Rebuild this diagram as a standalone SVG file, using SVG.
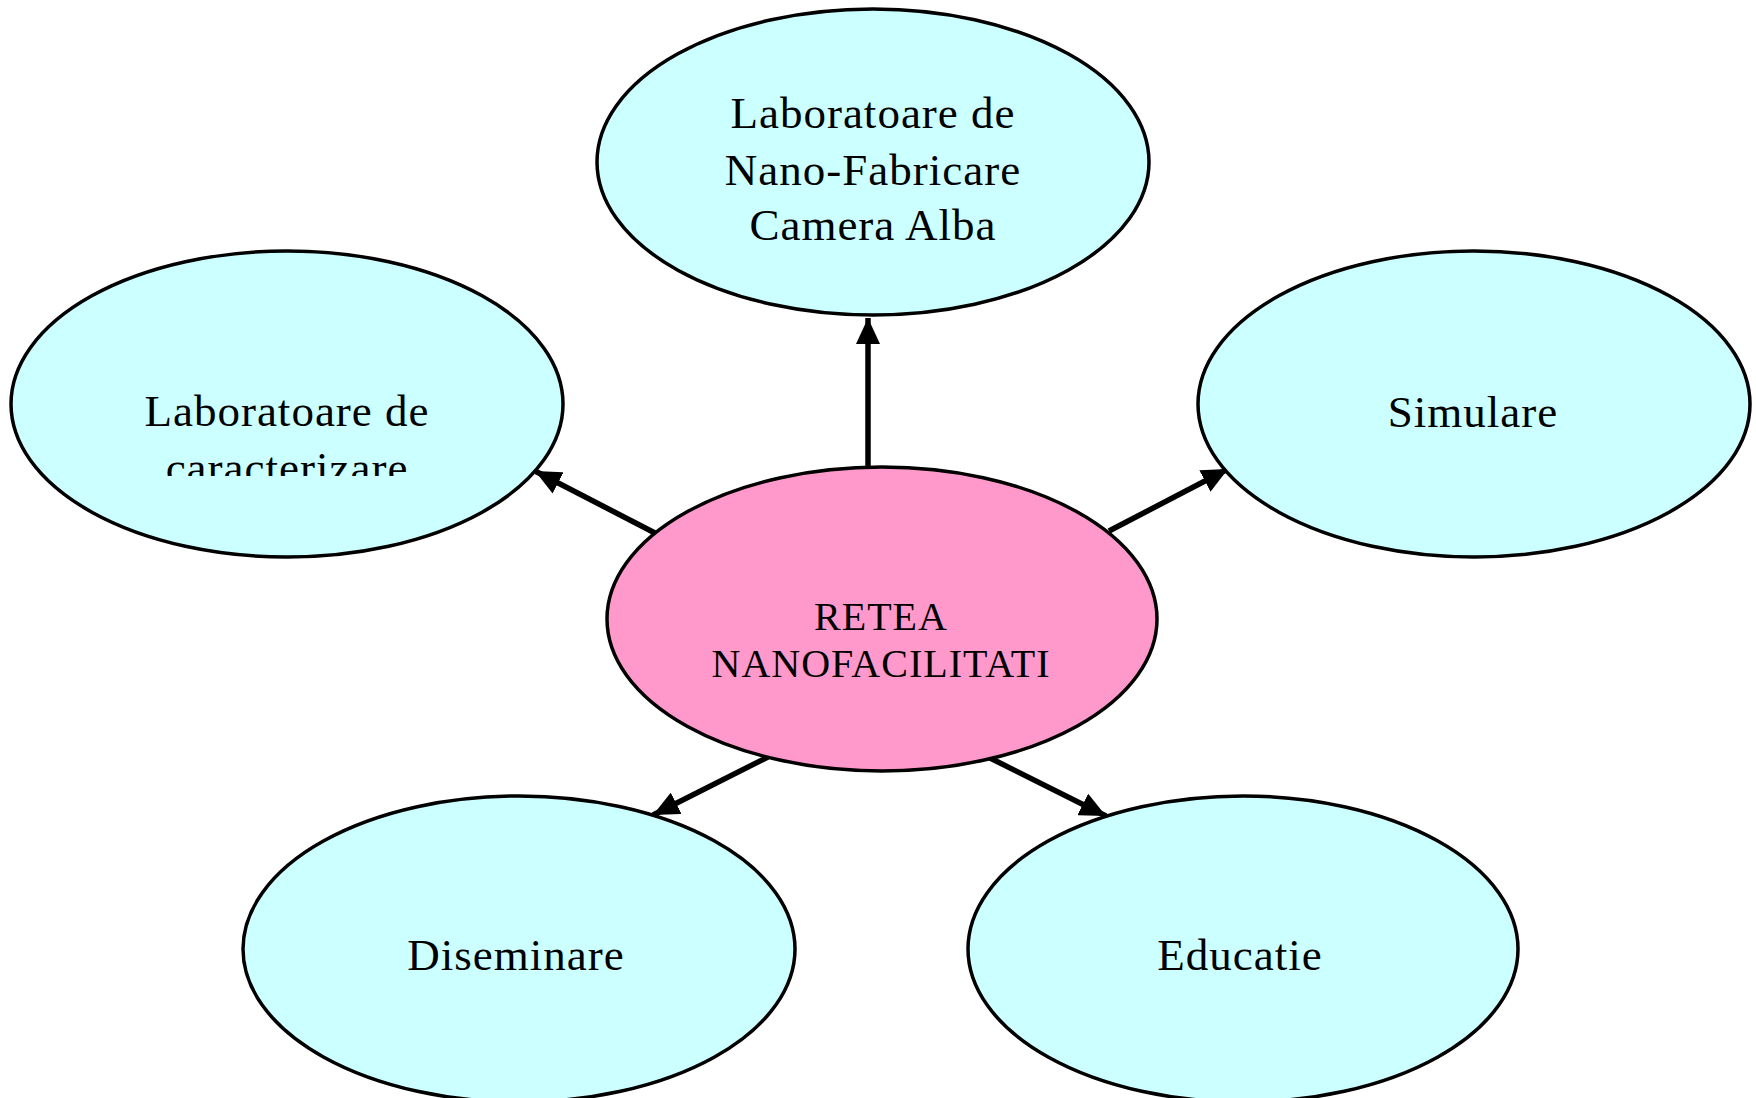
<svg xmlns="http://www.w3.org/2000/svg" width="1756" height="1098" viewBox="0 0 1756 1098">
<style>
.node{fill:#CCFFFF;stroke:#000;stroke-width:3.5}
.hub{fill:#FF99CC;stroke:#000;stroke-width:3.5}
.lbl{font-family:"Liberation Serif","Times New Roman",serif;font-size:45px;fill:#000;text-anchor:middle;letter-spacing:1px}
.hubl{font-family:"Liberation Serif","Times New Roman",serif;font-size:40px;fill:#000;text-anchor:middle;letter-spacing:1px}
.arr{stroke:#000;stroke-width:5.5;fill:none;marker-end:url(#ah)}
</style>
<defs>
<marker id="ah" markerUnits="userSpaceOnUse" markerWidth="28" markerHeight="24" refX="26" refY="12" orient="auto">
<path d="M0,0 L26,12 L0,24 Z" fill="#000"/>
</marker>
<clipPath id="clipL"><rect x="0" y="0" width="600" height="476"/></clipPath>
</defs>
<rect width="1756" height="1098" fill="#fff"/>
<g id="connectors">
<line class="arr" x1="868" y1="467" x2="868" y2="318"/>
<line class="arr" x1="655" y1="533" x2="535" y2="471"/>
<line class="arr" x1="1109" y1="531" x2="1228" y2="469"/>
<line class="arr" x1="768" y1="757" x2="653" y2="815"/>
<line class="arr" x1="990" y1="758" x2="1106" y2="816"/>
</g>
<g id="node-top">
<ellipse class="node" cx="873" cy="162" rx="276" ry="153"/>
<text class="lbl" x="873" y="128">Laboratoare de</text>
<text class="lbl" x="873" y="185">Nano-Fabricare</text>
<text class="lbl" x="873" y="240">Camera Alba</text>
</g>
<g id="node-left">
<ellipse class="node" cx="287" cy="404" rx="276" ry="153"/>
<text class="lbl" x="287" y="426">Laboratoare de</text>
<text class="lbl" x="287" y="483" clip-path="url(#clipL)">caracterizare</text>
</g>
<g id="node-right">
<ellipse class="node" cx="1474" cy="404" rx="276" ry="153"/>
<text class="lbl" x="1473" y="427">Simulare</text>
</g>
<g id="node-center">
<ellipse class="hub" cx="882" cy="619" rx="275" ry="152"/>
<text class="hubl" x="881" y="630">RETEA</text>
<text class="hubl" x="881" y="677">NANOFACILITATI</text>
</g>
<g id="node-bottom-left">
<ellipse class="node" cx="519" cy="949" rx="276" ry="153"/>
<text class="lbl" x="516" y="970">Diseminare</text>
</g>
<g id="node-bottom-right">
<ellipse class="node" cx="1243" cy="949" rx="275" ry="153"/>
<text class="lbl" x="1240" y="970">Educatie</text>
</g>
</svg>
